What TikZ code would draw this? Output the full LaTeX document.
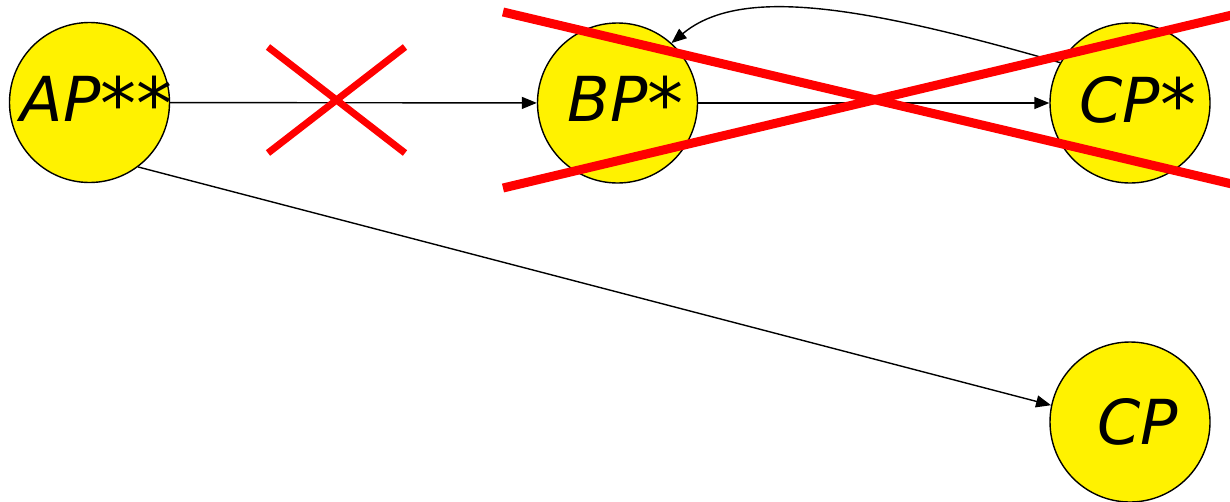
\documentclass[tikz,border=0pt]{standalone}
\usepackage{fontspec}
\setmainfont{DejaVu Sans}
\usetikzlibrary{arrows.meta}
\newcommand{\bigast}{{\fontsize{72pt}{72pt}\selectfont\raisebox{-8pt}{*}}}
\begin{document}
\begin{tikzpicture}[x=1pt,y=-1pt,
  circ/.style={circle,draw=black,line width=1.4pt,fill=yellow,minimum size=160pt,inner sep=0pt,
    font=\fontsize{62pt}{62pt}\selectfont\itshape},
  conn/.style={line width=1.4pt,-{Triangle[length=15pt,width=12pt]}},
  cross/.style={draw=red,line width=#1},
]
\useasboundingbox (0,0) rectangle (1230,501);
\node[circ] (ap)  at (89.5,102.5) {\makebox[0pt][c]{\hspace{14pt}AP\bigast\bigast}};
\node[circ] (bp)  at (617.5,103)  {\makebox[0pt][c]{\hspace{16pt}BP\bigast}};
\node[circ] (cps) at (1130,103)   {\makebox[0pt][c]{\hspace{16pt}CP\bigast}};
\node[circ] (cp)  at (1130,422)   {\makebox[0pt][c]{\hspace{16pt}CP}};
\draw[conn] (ap) -- (bp);
\draw[conn] (bp) -- (cps);
\draw[conn] (ap.-53) -- (cp.168);
\draw[conn] (cps.150) .. controls (860,5) and (740,-14) .. (bp.48);
% red crosses
\draw[cross=7pt] (268,47) -- (405,153);
\draw[cross=7pt] (268,153) -- (405,47);
\draw[cross=9pt] (503,12) -- (1232,184);
\draw[cross=9pt] (503,188) -- (1232,15);
\end{tikzpicture}
\end{document}
